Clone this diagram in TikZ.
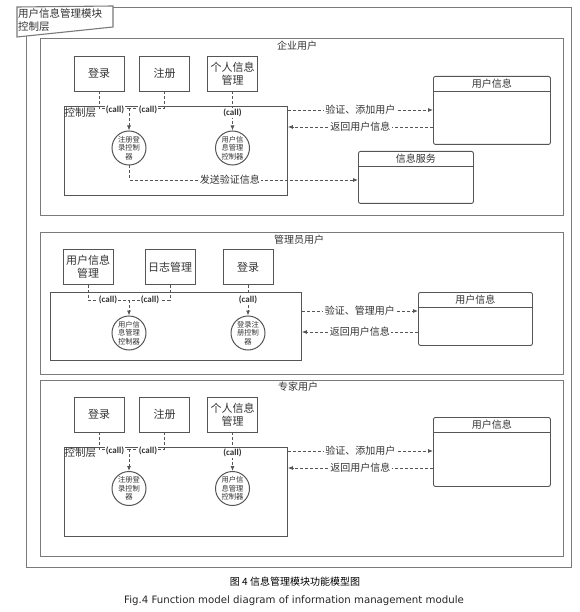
\documentclass[tikz,border=0pt]{standalone}
\usepackage{fontspec}
\setmainfont{Noto Sans CJK SC}
\newfontfamily\callfont{Carlito}
\newfontfamily\capfont{DejaVu Sans}
\usetikzlibrary{arrows.meta,calc}
\definecolor{ln}{HTML}{555555}
\definecolor{fr}{HTML}{7A7A7A}
\definecolor{tx}{HTML}{333333}
\tikzset{
 sect/.style={draw=fr, line width=1.1pt, inner sep=0pt, anchor=north west},
 fbox/.style={draw=ln, line width=0.9pt, minimum width=50pt, minimum height=35pt, inner sep=1pt, align=center, font=\fontsize{11}{13}\selectfont, text=tx},
 ctlbox/.style={draw=ln, line width=0.9pt, inner sep=0pt, anchor=north west},
 ctrl/.style={draw=ln, circle, line width=1pt, minimum size=34pt, inner sep=0pt, align=center, font=\fontsize{7.3}{8.3}\selectfont, text=tx},
 ent/.style={draw=ln, line width=0.9pt, rounded corners=2pt, inner sep=0pt, anchor=north west},
 entt/.style={anchor=north, minimum height=15pt, inner sep=0pt, font=\fontsize{10}{12}\selectfont, text=tx},
 hline/.style={draw=ln, line width=0.9pt},
 dsh/.style={draw=ln, line width=0.8pt, dash pattern=on 3pt off 2pt},
 dar/.style={dsh, -{Latex[length=5pt,width=4pt]}},
 call/.style={font=\callfont\bfseries\fontsize{9}{10}\selectfont, text=tx, fill=white, inner sep=0.8pt},
 lbl/.style={font=\fontsize{10}{12}\selectfont, text=tx, fill=white, inner sep=1.5pt},
 ttl/.style={font=\fontsize{10}{12}\selectfont, text=tx},
}
\begin{document}
\begin{tikzpicture}[x=1pt,y=-1pt]
\useasboundingbox (0,0) rectangle (579,612);
\fill[white] (0,0) rectangle (579,612);
% outer frame and tab
\node[sect, minimum width=545pt, minimum height=560pt] (outer) at (26,7) {};
\filldraw[fill=white, draw=fr, line width=1.1pt] (17,7) -- (113,6) -- (113,27) -- (17,37) -- cycle;
\node[anchor=north west, align=left, inner sep=0pt, font=\fontsize{10.5}{13}\selectfont, text=tx] (tab) at (18,8) {用户信息管理模块\\控制层};

%================ Section 1
\node[sect, minimum width=523pt, minimum height=177pt] (s1) at (40,38) {};
\node[ttl] (t1) at (297,46) {企业用户};
\node[fbox] (dl1) at (99,73.5) {登录};
\node[fbox] (zc1) at (164.5,73.5) {注册};
\node[fbox] (gr1) at (232.5,73.5) {个人信息\\管理};
\node[ctlbox, minimum width=223pt, minimum height=89pt] (k1) at (64,106) {};
\node[anchor=west, inner sep=0pt, font=\fontsize{10.5}{12}\selectfont, text=tx] (k1l) at (64.5,113) {控制层};
\node[ctrl] (c1a) at (129,148) {注册登\\录控制\\器};
\node[ctrl] (c1b) at (232.5,148) {用户信\\息管理\\控制器};
\node[ent, minimum width=117pt, minimum height=68pt] (u1) at (433,76) {};
\node[entt] (u1h) at (u1.north) {用户信息};
\draw[hline] (u1.west |- u1h.south) -- (u1.east |- u1h.south);
\node[ent, minimum width=115pt, minimum height=52pt] (x1) at (358,151) {};
\node[entt] (x1h) at (x1.north) {信息服务};
\draw[hline] (x1.west |- x1h.south) -- (x1.east |- x1h.south);
\draw[dsh] (dl1.south) |- (c1a.north |- 0,108);
\draw[dsh] (zc1.south) |- (c1a.north |- 0,108);
\draw[dar] (c1a.north |- 0,108) -- (c1a.north);
\draw[dar] (gr1.south) -- (c1b.north);
\node[call] (cl1a) at (115,110) {(call)};
\node[call] (cl1b) at (148,110) {(call)};
\node[call] (cl1c) at (232.5,113) {(call)};
\draw[dar] (k1.east |- 0,110) -- node[lbl]{验证、添加用户} (u1.west |- 0,110);
\draw[dar] (u1.west |- 0,127) -- node[lbl]{返回用户信息} (k1.east |- 0,127);
\draw[dar] (c1a.south) |- node[lbl, pos=0.72]{发送验证信息} (x1.west |- 0,180);

%================ Section 2
\node[sect, minimum width=523pt, minimum height=142pt] (s2) at (40,232) {};
\node[ttl] (t2) at (299,240) {管理员用户};
\node[fbox] (ya2) at (88,267) {用户信息\\管理};
\node[fbox] (rz2) at (170,267) {日志管理};
\node[fbox] (dl2) at (248,267) {登录};
\node[ctlbox, minimum width=251pt, minimum height=68pt] (k2) at (50,292) {};
\node[ctrl] (c2a) at (129,333) {用户信\\息管理\\控制器};
\node[ctrl] (c2b) at (248,333) {登录注\\册控制\\器};
\node[ent, minimum width=114pt, minimum height=53pt] (u2) at (418,292) {};
\node[entt] (u2h) at (u2.north) {用户信息};
\draw[hline] (u2.west |- u2h.south) -- (u2.east |- u2h.south);
\draw[dsh] (ya2.south) |- (c2a.north |- 0,300);
\draw[dsh] (rz2.south) |- (c2a.north |- 0,300);
\draw[dar] (c2a.north |- 0,300) -- (c2a.north);
\draw[dar] (dl2.south) -- (c2b.north);
\node[call] (cl2a) at (108,300) {(call)};
\node[call] (cl2b) at (150,300) {(call)};
\node[call] (cl2c) at (248,300) {(call)};
\draw[dar] (k2.east |- 0,311) -- node[lbl]{验证、管理用户} (u2.west |- 0,311);
\draw[dar] (u2.west |- 0,332) -- node[lbl]{返回用户信息} (k2.east |- 0,332);

%================ Section 3
\node[sect, minimum width=523pt, minimum height=176pt] (s3) at (40,380) {};
\node[ttl] (t3) at (298,387) {专家用户};
\node[fbox] (dl3) at (99,414.5) {登录};
\node[fbox] (zc3) at (164.5,414.5) {注册};
\node[fbox] (gr3) at (232.5,414.5) {个人信息\\管理};
\node[ctlbox, minimum width=223pt, minimum height=89pt] (k3) at (64,447) {};
\node[anchor=west, inner sep=0pt, font=\fontsize{10.5}{12}\selectfont, text=tx] (k3l) at (64.5,453) {控制层};
\node[ctrl] (c3a) at (129,488.5) {注册登\\录控制\\器};
\node[ctrl] (c3b) at (232.5,488.5) {用户信\\息管理\\控制器};
\node[ent, minimum width=117pt, minimum height=69pt] (u3) at (433,417) {};
\node[entt] (u3h) at (u3.north) {用户信息};
\draw[hline] (u3.west |- u3h.south) -- (u3.east |- u3h.south);
\draw[dsh] (dl3.south) |- (c3a.north |- 0,449);
\draw[dsh] (zc3.south) |- (c3a.north |- 0,449);
\draw[dar] (c3a.north |- 0,449) -- (c3a.north);
\draw[dar] (gr3.south) -- (c3b.north);
\node[call] (cl3a) at (115,451) {(call)};
\node[call] (cl3b) at (148,451) {(call)};
\node[call] (cl3c) at (232.5,453) {(call)};
\draw[dar] (k3.east |- 0,451) -- node[lbl]{验证、添加用户} (u3.west |- 0,451);
\draw[dar] (u3.west |- 0,468) -- node[lbl]{返回用户信息} (k3.east |- 0,468);

%================ Caption
\node[font=\fontsize{10}{11}\selectfont, text=black] (cap1) at (295,582) {图 4 信息管理模块功能模型图};
\node[font=\capfont\fontsize{10.2}{11}\selectfont, text=black!85] (cap2) at (294,601) {Fig.4 Function model diagram of information management module};
\end{tikzpicture}
\end{document}
